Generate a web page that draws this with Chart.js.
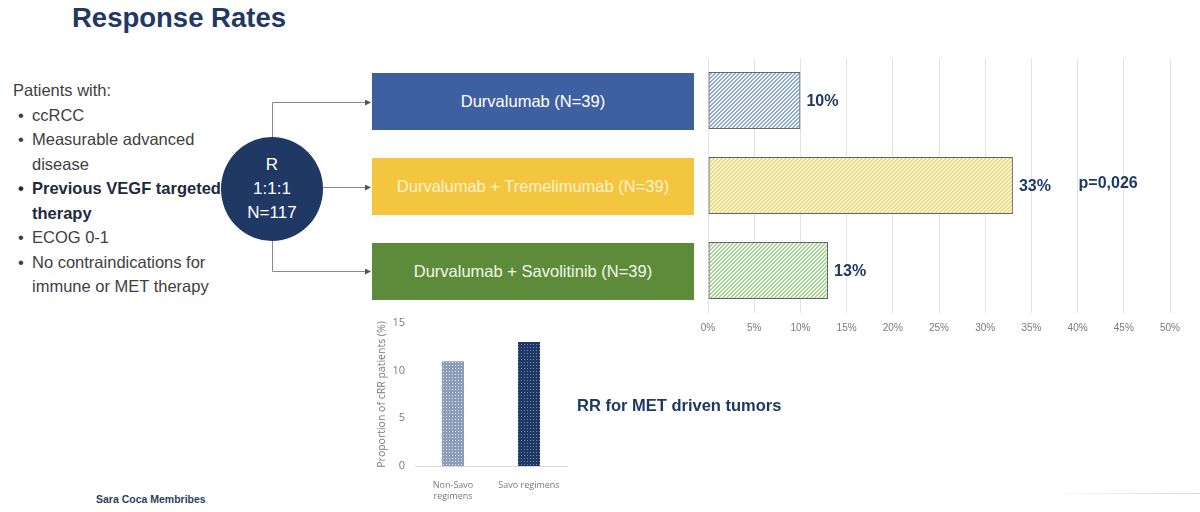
<!DOCTYPE html>
<html lang="en">
<head>
<meta charset="utf-8" />
<title>Response Rates</title>
<script src="https://cdn.jsdelivr.net/npm/chart.js@4.4.0/dist/chart.umd.min.js"></script>
<style>
	html, body { margin: 0; padding: 0; background: #fff; }
	body { width: 1200px; height: 512px; position: relative; overflow: hidden; font-family: "Liberation Sans", Arial, sans-serif; }
	.abs { position: absolute; }
	#title { left: 72px; top: 2px; font-size: 27.5px; font-weight: bold; color: #1f3864; }
	#crit { left: 13px; top: 78px; font-size: 16.5px; line-height: 24.5px; color: #404040; white-space: nowrap; }
	#crit .b { position: relative; padding-left: 19px; }
	#crit .b:before { content: "\2022"; position: absolute; left: 5px; }
	#crit .bold { font-weight: bold; color: #1f2a3d; }
	#rand { left: 221px; top: 137px; width: 102px; height: 104px; border-radius: 50%; background: #1f3864; color: #fff;
		font-size: 17px; line-height: 24px; text-align: center; padding-top: 16px; box-sizing: border-box; }
	.arm { position: absolute; left: 372px; width: 322px; height: 57px; color: #fff; font-size: 16.5px;
		display: flex; align-items: center; justify-content: center; }
	#rrmet { left: 577px; top: 396px; font-size: 16.5px; font-weight: bold; color: #1f3864; }
	#author { left: 96px; top: 493px; font-size: 10.5px; font-weight: bold; color: #2a3f5f; }
	#foot { left: 1040px; top: 493px; width: 160px; height: 1px; background: linear-gradient(to right, rgba(200,200,200,0), #d8d8d8); }
</style>
</head>
<body>
	<div id="title" class="abs">Response Rates</div>

	<div id="crit" class="abs">
		<div>Patients with:</div>
		<div class="b">ccRCC</div>
		<div class="b">Measurable advanced<br>disease</div>
		<div class="b bold">Previous VEGF targeted<br>therapy</div>
		<div class="b">ECOG 0-1</div>
		<div class="b">No contraindications for<br>immune or MET therapy</div>
	</div>

	<svg class="abs" style="left:0;top:0" width="700" height="320">
		<defs>
			<marker id="arr" markerWidth="6" markerHeight="6" refX="5" refY="3" orient="auto">
				<path d="M0,0 L6,3 L0,6 z" fill="#555" />
			</marker>
		</defs>
		<g fill="none" stroke="#8a8a8a" stroke-width="1">
			<path d="M272.5,138 V102.5 H370" marker-end="url(#arr)" />
			<path d="M323,187.5 H370" marker-end="url(#arr)" />
			<path d="M272.5,240 V271.5 H370" marker-end="url(#arr)" />
		</g>
	</svg>

	<div id="rand" class="abs">R<br>1:1:1<br>N=117</div>

	<div id="arms"></div>

	<canvas id="main" class="abs" style="left:690px;top:50px" width="510" height="295"></canvas>
	<canvas id="met" class="abs" style="left:370px;top:310px" width="210" height="200"></canvas>

	<div id="rrmet" class="abs">RR for MET driven tumors</div>
	<div id="author" class="abs">Sara Coca Membribes</div>
	<div id="foot" class="abs"></div>

	<script>
		// main study arms
		var arms = ['Durvalumab (N=39)', 'Durvalumab + Tremelimumab (N=39)', 'Durvalumab + Savolitinib (N=39)'];
		var responseRate = [10, 33, 13];
		var pValue = 'p=0,026';

		// MET driven subgroup
		var metGroups = [['Non-Savo', 'regimens'], 'Savo regimens'];
		var metRates = [11, 13];

		var armColors = ['#3f60a0', '#f4c640', '#5e8b39'];
		var armText = ['#ffffff', '#fdf2cc', '#f2f7ea'];
		var armTops = [73, 158, 243];

		arms.forEach((name, i) => {
			var d = document.createElement('div');
			d.className = 'arm';
			d.style.top = armTops[i] + 'px';
			d.style.background = armColors[i];
			d.style.color = armText[i];
			d.textContent = name;
			document.getElementById('arms').appendChild(d);
		});

		var mainCtx = document.getElementById('main').getContext('2d');
		var metCtx = document.getElementById('met').getContext('2d');

		// crisp pixel hatch "///", 2px stripe every 4px
		function hatch(ctx, bg, fg) {
			var s = 4;
			var c = document.createElement('canvas');
			c.width = c.height = s;
			var x = c.getContext('2d');
			x.fillStyle = bg;
			x.fillRect(0, 0, s, s);
			x.fillStyle = fg;
			for (var i = 0; i < s; i++) {
				x.fillRect(i, s - 1 - i, 1, 1);
				x.fillRect(i, (s - i) % s, 1, 1);
			}
			return ctx.createPattern(c, 'repeat');
		}

		function dots(ctx, bg, fg) {
			var c = document.createElement('canvas');
			c.width = c.height = 3;
			var x = c.getContext('2d');
			x.fillStyle = bg;
			x.fillRect(0, 0, 3, 3);
			x.fillStyle = fg;
			x.fillRect(1, 1, 1, 1);
			return ctx.createPattern(c, 'repeat');
		}

		var valueLabels = {
			id: 'valueLabels',
			afterDatasetsDraw(chart) {
				var ctx = chart.ctx;
				var meta = chart.getDatasetMeta(0);
				ctx.save();
				ctx.font = 'bold 16px "Liberation Sans", Arial, sans-serif';
				ctx.fillStyle = '#1f3864';
				ctx.textBaseline = 'middle';
				ctx.textAlign = 'left';
				meta.data.forEach((bar, i) => {
					ctx.fillText(responseRate[i] + '%', bar.x + 6, bar.y + 1);
				});
				var mid = meta.data[1];
				ctx.fillText(pValue, chart.scales.x.getPixelForValue(40.1), mid.y - 2);
				ctx.restore();
			}
		};

		new Chart(mainCtx, {
			type: 'bar',
			data: {
				labels: arms,
				datasets: [{
					data: responseRate,
					backgroundColor: [
						hatch(mainCtx, '#f4f7fc', '#8ea7d3'),
						hatch(mainCtx, '#fdf8dc', '#ead977'),
						hatch(mainCtx, '#f3f9ee', '#a6d097')
					],
					borderColor: '#666666',
					borderWidth: 1.2,
					borderSkipped: false,
					barPercentage: 0.67,
					categoryPercentage: 1
				}]
			},
			options: {
				indexAxis: 'y',
				responsive: false,
				animation: false,
				layout: { padding: { left: 18, right: 30, top: 8, bottom: 0 } },
				plugins: { legend: { display: false }, tooltip: { enabled: false } },
				scales: {
					x: {
						min: 0,
						max: 50,
						ticks: {
							stepSize: 5,
							padding: 9,
							color: '#7a7a7a',
							font: { size: 10, family: '"Liberation Sans", Arial, sans-serif' },
							callback: (v) => v + '%'
						},
						grid: { color: '#e3e3e3', drawTicks: false },
						border: { display: false },
						afterFit: (s) => { s.height = 32; }
					},
					y: { display: false }
				}
			},
			plugins: [valueLabels]
		});

		new Chart(metCtx, {
			type: 'bar',
			data: {
				labels: metGroups,
				datasets: [{
					data: metRates,
					backgroundColor: [
						dots(metCtx, '#8d9db8', '#dfe5ee'),
						dots(metCtx, '#1f3864', '#6d86b3')
					],
					barPercentage: 0.29,
					categoryPercentage: 1
				}]
			},
			options: {
				responsive: false,
				animation: false,
				layout: { padding: { left: 0, right: 13, top: 13, bottom: 0 } },
				plugins: { legend: { display: false }, tooltip: { enabled: false } },
				scales: {
					x: {
						grid: { display: false },
						border: { color: '#d9d9d9' },
						offset: true,
						ticks: {
							padding: 6,
							color: '#7a7a7a',
							font: { size: 9, family: '"Open Sans", "Liberation Sans", sans-serif' }
						},
						afterFit: (s) => { s.height = 44; }
					},
					y: {
						min: 0,
						max: 15,
						ticks: {
							stepSize: 5,
							padding: 2,
							color: '#7a7a7a',
							font: { size: 11, family: '"Open Sans", "Liberation Sans", sans-serif' }
						},
						grid: { display: false },
						border: { display: false },
						title: {
							display: true,
							text: 'Proportion of cRR patients (%)',
							color: '#7a7a7a',
							padding: { top: 6, bottom: 0 },
							font: { size: 10.5, family: '"Open Sans", "Liberation Sans", sans-serif' }
						},
						afterFit: (s) => { s.width = 45; }
					}
				}
			}
		});
	</script>
</body>
</html>
